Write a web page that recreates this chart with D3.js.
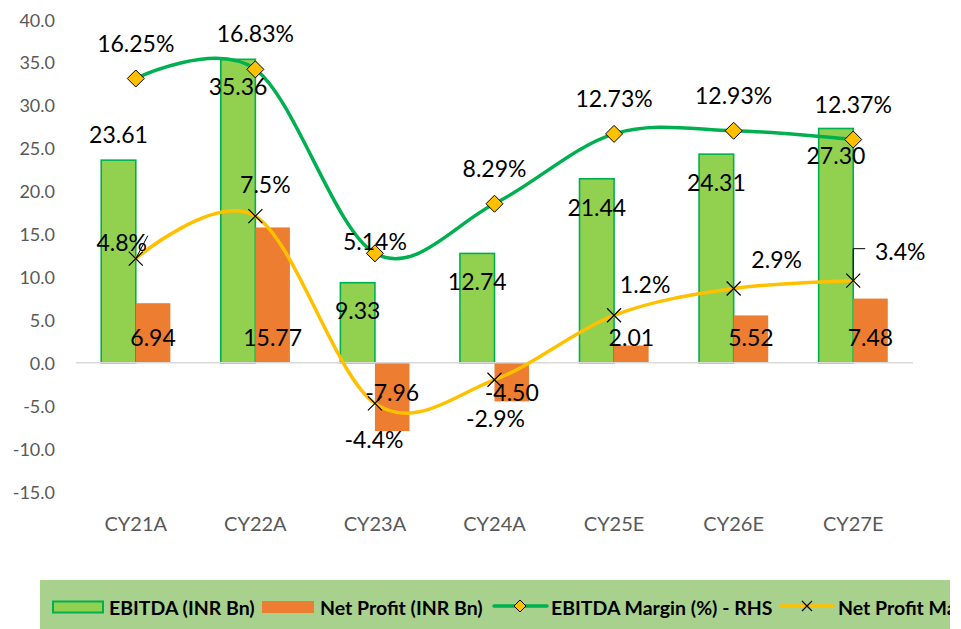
<!DOCTYPE html>
<html>
<head>
<meta charset="utf-8">
<script src="https://cdn.jsdelivr.net/npm/d3@7"></script>
<style>
  html, body { margin: 0; padding: 0; background: #ffffff; }
  svg { display: block; }
  text { font-family: Lato, "Open Sans", sans-serif; }
</style>
</head>
<body>
<svg id="chart" width="961" height="629"></svg>
<script>
// ---------- data ----------
const categories = ["CY21A", "CY22A", "CY23A", "CY24A", "CY25E", "CY26E", "CY27E"];
const ebitda = [23.61, 35.36, 9.33, 12.74, 21.44, 24.31, 27.30];
const netProfit = [6.94, 15.77, -7.96, -4.50, 2.01, 5.52, 7.48];
const ebitdaMargin = [16.25, 16.83, 5.14, 8.29, 12.73, 12.93, 12.37];
const npMargin = [4.8, 7.5, -4.4, -2.9, 1.2, 2.9, 3.4];
const leftTicks = [-15, -10, -5, 0, 5, 10, 15, 20, 25, 30, 35, 40];
const seriesNames = ["EBITDA (INR Bn)", "Net Profit (INR Bn)", "EBITDA Margin (%) - RHS", "Net Profit Margin (%) - RHS"];

// ---------- label placement (offsets from the anchor) ----------
const ebitdaLabelDy = [-26, 27, 27, 28, 28, 28, 27];
const ebitdaMarginLabelOff = [[0, -36], [0, -36], [0, -12], [0, -36], [0, -36], [0, -36], [0, -36]];
const npMarginLabelOff = [[-14, -17], [10, -32], [-1, 36], [1, 38], [31, -31], [43, -30], [47, -30]];

// ---------- colours ----------
const C_EBITDA_FILL = "#92D050", C_EBITDA_STROKE = "#00B050";
const C_NP = "#ED7D31", C_GREEN = "#00B050", C_YELLOW = "#FFC000";
const C_AXIS_TEXT = "#595959";

const fmt = n => v => v.toFixed(n);

const svg = d3.select("#chart");
const plot = { left: 76, right: 913, top: 19.5, bottom: 491.5 };

const x = d3.scaleBand().domain(categories).range([plot.left, plot.right]).paddingInner(0).paddingOuter(0);
const yL = d3.scaleLinear().domain([-15, 40]).range([plot.bottom, plot.top]);
const yR = d3.scaleLinear().domain([-10, 20]).range([plot.bottom, plot.top]);
const bw = x.bandwidth() * 0.289;
const cx = c => x(c) + x.bandwidth() / 2;

// ---------- left axis labels ----------
svg.append("g").selectAll("text").data(leftTicks).join("text")
  .attr("x", 55).attr("y", d => yL(d))
  .attr("text-anchor", "end").attr("dominant-baseline", "central")
  .attr("fill", C_AXIS_TEXT).attr("font-size", 18)
  .text(d => fmt(1)(d));

// ---------- category labels ----------
svg.append("g").selectAll("text").data(categories).join("text")
  .attr("x", d => cx(d)).attr("y", 523)
  .attr("text-anchor", "middle").attr("dominant-baseline", "central")
  .attr("fill", C_AXIS_TEXT).attr("font-size", 20)
  .text(d => d);

// ---------- bars ----------
svg.append("g").selectAll("rect").data(categories).join("rect")
  .attr("x", d => cx(d) - bw).attr("width", bw)
  .attr("y", (d, i) => Math.min(yL(ebitda[i]), yL(0)))
  .attr("height", (d, i) => Math.abs(yL(ebitda[i]) - yL(0)))
  .attr("fill", C_EBITDA_FILL).attr("stroke", C_EBITDA_STROKE).attr("stroke-width", 1.6);

svg.append("g").selectAll("rect").data(categories).join("rect")
  .attr("x", d => cx(d)).attr("width", bw)
  .attr("y", (d, i) => Math.min(yL(netProfit[i]), yL(0)))
  .attr("height", (d, i) => Math.abs(yL(netProfit[i]) - yL(0)))
  .attr("fill", C_NP);

// zero line
svg.append("line")
  .attr("x1", plot.left).attr("x2", plot.right)
  .attr("y1", yL(0)).attr("y2", yL(0))
  .attr("stroke", "#D9D9D9").attr("stroke-width", 1.5);

// ---------- lines ----------
const lineGen = d3.line().curve(d3.curveCardinal.tension(0));
const emPts = categories.map((c, i) => [cx(c), yR(ebitdaMargin[i])]);
const npPts = categories.map((c, i) => [cx(c), yR(npMargin[i])]);

svg.append("path").attr("d", lineGen(npPts))
  .attr("fill", "none").attr("stroke", C_YELLOW).attr("stroke-width", 3.5).attr("stroke-linecap", "round");
svg.append("path").attr("d", lineGen(emPts))
  .attr("fill", "none").attr("stroke", C_GREEN).attr("stroke-width", 3.5).attr("stroke-linecap", "round");

// markers: X for net profit margin
const xm = 7;
const npM = svg.append("g").selectAll("g").data(npPts).join("g")
  .attr("transform", d => `translate(${d[0]},${d[1]})`);
npM.append("path").attr("d", `M${-xm},${-xm}L${xm},${xm}M${-xm},${xm}L${xm},${-xm}`)
  .attr("stroke", "#000").attr("stroke-width", 1.2).attr("fill", "none");

// markers: diamond for EBITDA margin
const dm = 8.5;
svg.append("g").selectAll("path").data(emPts).join("path")
  .attr("transform", d => `translate(${d[0]},${d[1]})`)
  .attr("d", `M0,${-dm}L${dm},0L0,${dm}L${-dm},0Z`)
  .attr("fill", C_YELLOW).attr("stroke", "#000").attr("stroke-width", 1);

// ---------- data labels ----------
const LFS = 23;
const lab = svg.append("g").attr("font-size", LFS).attr("fill", "#000")
  .attr("text-anchor", "middle").attr("dominant-baseline", "central");

lab.selectAll(".eb").data(categories).join("text").attr("class", "eb")
  .attr("x", d => cx(d) - bw / 2)
  .attr("y", (d, i) => yL(ebitda[i]) + ebitdaLabelDy[i])
  .text((d, i) => fmt(2)(ebitda[i]));

lab.selectAll(".np").data(categories).join("text").attr("class", "np")
  .attr("x", d => cx(d) + bw / 2)
  .attr("y", (d, i) => yL(0) + (netProfit[i] >= 0 ? -26 : 29))
  .text((d, i) => fmt(2)(netProfit[i]));

lab.selectAll(".em").data(categories).join("text").attr("class", "em")
  .attr("x", (d, i) => emPts[i][0] + ebitdaMarginLabelOff[i][0])
  .attr("y", (d, i) => emPts[i][1] + ebitdaMarginLabelOff[i][1])
  .text((d, i) => fmt(2)(ebitdaMargin[i]) + "%");

lab.selectAll(".nm").data(categories).join("text").attr("class", "nm")
  .attr("x", (d, i) => npPts[i][0] + npMarginLabelOff[i][0])
  .attr("y", (d, i) => npPts[i][1] + npMarginLabelOff[i][1])
  .text((d, i) => fmt(1)(npMargin[i]) + "%");

// leader lines
const p0 = npPts[0], p6 = npPts[6];
svg.append("path").attr("d", `M${p0[0]},${p0[1]}L${p0[0] + 12},${p0[1] - 23}`)
  .attr("stroke", "#000").attr("stroke-width", 1).attr("fill", "none");
svg.append("path").attr("d", `M${p6[0]},${p6[1]}L${p6[0]},${p6[1] - 32}L${p6[0] + 12},${p6[1] - 32}`)
  .attr("stroke", "#000").attr("stroke-width", 1).attr("fill", "none");

// ---------- legend ----------
const lg = svg.append("g");
lg.append("defs").append("clipPath").attr("id", "lgclip")
  .append("rect").attr("x", 40).attr("y", 580).attr("width", 910).attr("height", 49);
lg.append("rect").attr("x", 40).attr("y", 580).attr("width", 910).attr("height", 49).attr("fill", "#A9D18E");
const lgi = lg.append("g").attr("clip-path", "url(#lgclip)");
const ly = 607;
lgi.append("rect").attr("x", 53).attr("y", 601.5).attr("width", 50).attr("height", 11)
  .attr("fill", C_EBITDA_FILL).attr("stroke", C_EBITDA_STROKE).attr("stroke-width", 2);
lgi.append("rect").attr("x", 262).attr("y", 601).attr("width", 52).attr("height", 12).attr("fill", C_NP);
lgi.append("line").attr("x1", 494).attr("x2", 547).attr("y1", ly - 1).attr("y2", ly - 1)
  .attr("stroke", C_GREEN).attr("stroke-width", 3.5).attr("stroke-linecap", "round");
lgi.append("path").attr("transform", `translate(520,${ly - 1})`).attr("d", "M0,-6L6,0L0,6L-6,0Z")
  .attr("fill", C_YELLOW).attr("stroke", "#000").attr("stroke-width", 1);
lgi.append("line").attr("x1", 781).attr("x2", 833).attr("y1", ly - 1).attr("y2", ly - 1)
  .attr("stroke", C_YELLOW).attr("stroke-width", 3.5).attr("stroke-linecap", "round");
lgi.append("path").attr("transform", `translate(807,${ly - 1})`).attr("d", "M-5,-5L5,5M-5,5L5,-5")
  .attr("stroke", "#000").attr("stroke-width", 1.2);
const lgX = [109, 320, 551, 838];
lgi.selectAll("text.lt").data(seriesNames).join("text").attr("class", "lt")
  .attr("x", (d, i) => lgX[i]).attr("y", ly)
  .attr("dominant-baseline", "central").attr("font-weight", "bold").attr("font-size", 19.5)
  .attr("fill", "#000").text(d => d);
</script>
</body>
</html>
